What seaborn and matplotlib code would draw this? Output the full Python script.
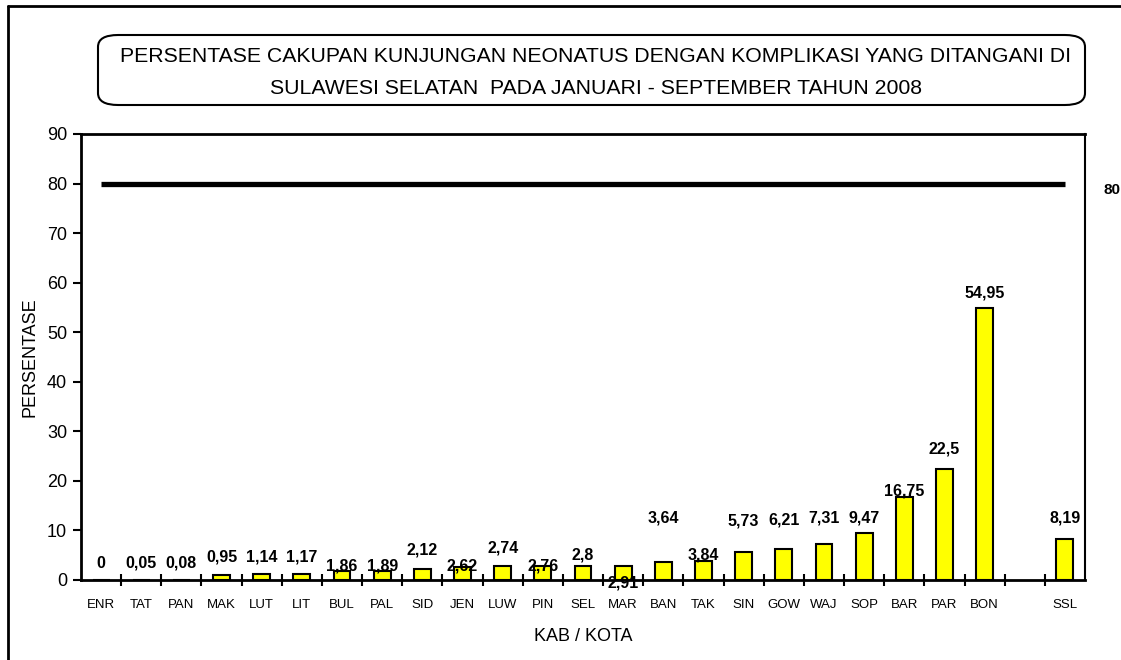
import numpy as np
import pandas as pd
import matplotlib.pyplot as plt
import seaborn as sns
from matplotlib.patches import FancyBboxPatch
from matplotlib.lines import Line2D
from matplotlib.ticker import FixedLocator

# data
kab = ['ENR', 'TAT', 'PAN', 'MAK', 'LUT', 'LIT', 'BUL', 'PAL', 'SID', 'JEN', 'LUW', 'PIN',
       'SEL', 'MAR', 'BAN', 'TAK', 'SIN', 'GOW', 'WAJ', 'SOP', 'BAR', 'PAR', 'BON', 'SSL']
persen = [0, 0.05, 0.08, 0.95, 1.14, 1.17, 1.86, 1.89, 2.12, 2.62, 2.74, 2.76,
          2.8, 2.91, 3.64, 3.84, 5.73, 6.21, 7.31, 9.47, 16.75, 22.5, 54.95, 8.19]
target = 80
urutan = kab[:23] + [' '] + kab[23:]   # empty slot before SSL

# label offsets (pixels above bar top) - excel placed them a bit randomly
label_dy = [17, 17, 17, 18, 17, 17, 5, 5, 19, 1, 18, 0, 11, -17, 44, 6, 31, 29, 26, 15, 6, 19, 15, 21]

df = pd.DataFrame({'kab': kab, 'persen': persen})

sns.set_style('white')
plt.rcParams['font.family'] = ['Liberation Sans', 'DejaVu Sans']
plt.rcParams['text.color'] = 'black'
plt.rcParams['axes.labelcolor'] = 'black'
plt.rcParams['xtick.color'] = 'black'
plt.rcParams['ytick.color'] = 'black'

fig = plt.figure(figsize=(11.21, 6.6), dpi=100)
ax = fig.add_axes([81/1121, 1 - 580/660, (1085 - 81)/1121, (580 - 134)/660])

sns.barplot(data=df, x='kab', y='persen', order=urutan, color='#FFFF00',
            edgecolor='black', linewidth=1.5, width=0.42, saturation=1, ax=ax)

# target line
ax.hlines(target, 0, len(urutan) - 1, color='black', linewidth=3.8)
ax.annotate(str(target), xy=(1, target), xycoords=('axes fraction', 'data'),
            xytext=(18, -6), textcoords='offset pixels', fontsize=11,
            fontweight='bold', va='center', ha='left', annotation_clip=False)

# data labels
for k, v, dy in zip(kab, persen, label_dy):
    xpos = urutan.index(k)
    txt = ('%g' % v).replace('.', ',')
    ax.annotate(txt, xy=(xpos, v), xytext=(0, dy), textcoords='offset pixels',
                ha='center', va='center', fontsize=11.5, fontweight='bold')

ax.set_xlim(-0.5, len(urutan) - 0.5)
ax.set_ylim(0, 90)
ax.set_yticks(range(0, 91, 10))
ax.tick_params(axis='y', labelsize=13, direction='out', length=6, width=1.5, left=True, pad=4)
ax.set_xticks(range(len(urutan)))
ax.set_xticklabels(urutan)
ax.tick_params(axis='x', which='major', labelsize=9.5, length=0, pad=14)
ax.xaxis.set_minor_locator(FixedLocator(np.arange(0.5, len(urutan) - 0.5, 1)))
ax.tick_params(axis='x', which='minor', direction='inout', length=9, width=1.5, bottom=True)

for s in ax.spines.values():
    s.set_linewidth(2)
    s.set_color('black')
ax.spines['right'].set_linewidth(1.5)

ax.set_xlabel('KAB / KOTA', fontsize=13, labelpad=12)
ax.set_ylabel('PERSENTASE', fontsize=13, labelpad=6)

# title box
box = FancyBboxPatch((98/1121, 1 - 105/660), (1085 - 98)/1121, 70/660,
                     boxstyle='round,pad=0,rounding_size=0.018', transform=fig.transFigure,
                     facecolor='white', edgecolor='black', linewidth=1.5)
fig.patches.append(box)
judul_font = ['Liberation Sans Narrow', 'Liberation Sans', 'DejaVu Sans']
fig.text(596/1121, 1 - 56/660, 'PERSENTASE CAKUPAN KUNJUNGAN NEONATUS DENGAN KOMPLIKASI YANG DITANGANI DI',
         ha='center', va='center', fontsize=15.3, family=judul_font)
fig.text(596/1121, 1 - 88/660, 'SULAWESI SELATAN  PADA JANUARI - SEPTEMBER TAHUN 2008',
         ha='center', va='center', fontsize=15.3, family=judul_font)

# outer frame (left and top edges)
fig.lines.append(Line2D([8/1121, 8/1121], [0, 1 - 6/660], transform=fig.transFigure, color='black', linewidth=2))
fig.lines.append(Line2D([8/1121, 1], [1 - 6/660, 1 - 6/660], transform=fig.transFigure, color='black', linewidth=2))

fig.savefig('out.png', dpi=100)
